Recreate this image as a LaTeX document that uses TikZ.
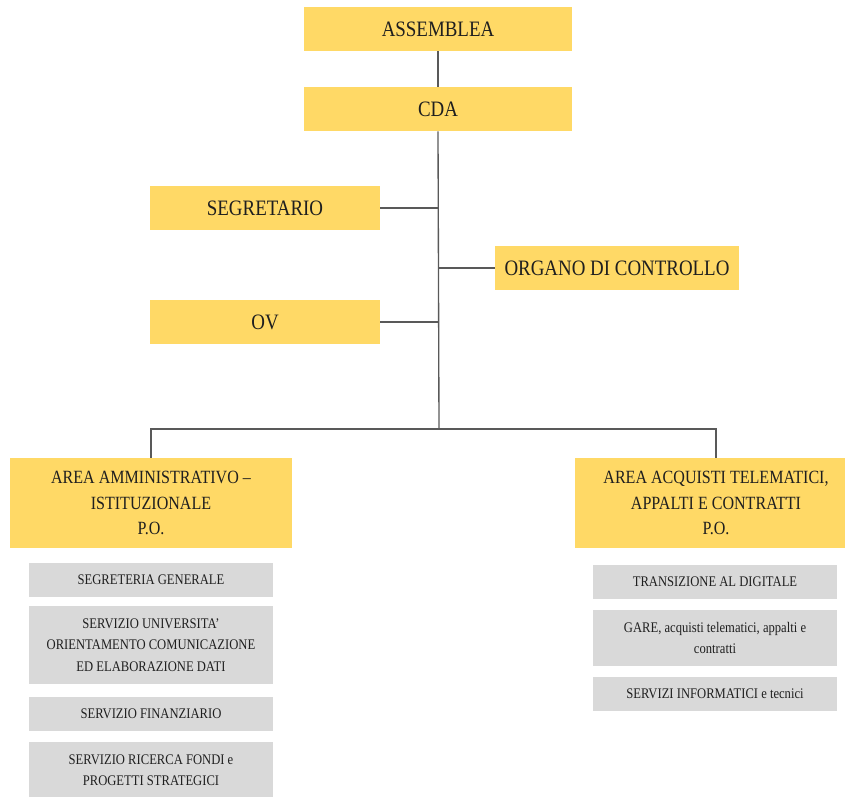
\documentclass[tikz,border=0pt]{standalone}
\usepackage{fontspec}
\setmainfont{Liberation Serif}[FakeStretch=0.86]
\usetikzlibrary{positioning}
\definecolor{giallo}{HTML}{FFD966}
\definecolor{grigio}{HTML}{D9D9D9}
\definecolor{linea}{HTML}{595959}
\definecolor{testo}{HTML}{1F1F1F}
\tikzset{
  ybox/.style={fill=giallo, inner sep=0pt, align=center, text=testo,
    minimum height=33pt, font=\fontsize{16.5}{19}\selectfont},
  areabox/.style={ybox, minimum width=211.5pt, minimum height=67.5pt,
    font=\fontsize{14}{19}\selectfont},
  gbox/.style={fill=grigio, inner sep=0pt, align=center, text=testo,
    minimum width=183pt, font=\fontsize{11}{16}\selectfont},
  link/.style={draw=linea, line width=1pt}
}
\begin{document}
\begin{tikzpicture}[x=0.75pt,y=-0.75pt]
\useasboundingbox (0,0) rectangle (845,796);
% vertici
\node[ybox, minimum width=201pt] (assemblea) at (438,29) {ASSEMBLEA};
\node[ybox, minimum width=201pt] (cda) at (438,109) {CDA};
\node[ybox, minimum width=172.5pt] (segretario) at (265,208) {SEGRETARIO};
\node[ybox, minimum width=183pt] (organo) at (617,268) {ORGANO DI CONTROLLO};
\node[ybox, minimum width=172.5pt] (ov) at (265,322) {OV};
% aree
\node[areabox] (area1) at (151,503) {AREA AMMINISTRATIVO --\\ISTITUZIONALE\\P.O.};
\node[areabox] (area2) at (716,503) {AREA ACQUISTI TELEMATICI,\\APPALTI E CONTRATTI\\P.O.};
% servizi area 1
\node[gbox, minimum height=25.5pt] (segreteria) at (151,580) {SEGRETERIA GENERALE};
\node[gbox, minimum height=58.5pt] (universita) at (151,645) {SERVIZIO UNIVERSITA'\\ORIENTAMENTO COMUNICAZIONE\\ED ELABORAZIONE DATI};
\node[gbox, minimum height=25.5pt] (finanziario) at (151,714) {SERVIZIO FINANZIARIO};
\node[gbox, minimum height=42pt] (ricerca) at (151,770) {SERVIZIO RICERCA FONDI e\\PROGETTI STRATEGICI};
% servizi area 2
\node[gbox, minimum height=25.5pt] (digitale) at (715,582) {TRANSIZIONE AL DIGITALE};
\node[gbox, minimum height=42pt] (gare) at (715,638) {GARE, acquisti telematici, appalti e\\contratti};
\node[gbox, minimum height=25.5pt] (informatici) at (715,694) {SERVIZI INFORMATICI e tecnici};
% collegamenti
\coordinate (hub) at (439,429);
\draw[link] (assemblea) -- (cda);
\draw[link] (cda.south) -- (hub);
\draw[link] (segretario.east) -- (segretario.east -| hub);
\draw[link] (organo.west) -- (organo.west -| hub);
\draw[link] (ov.east) -- (ov.east -| hub);
\draw[link] (area1.north) |- (hub) -| (area2.north);
\end{tikzpicture}
\end{document}
